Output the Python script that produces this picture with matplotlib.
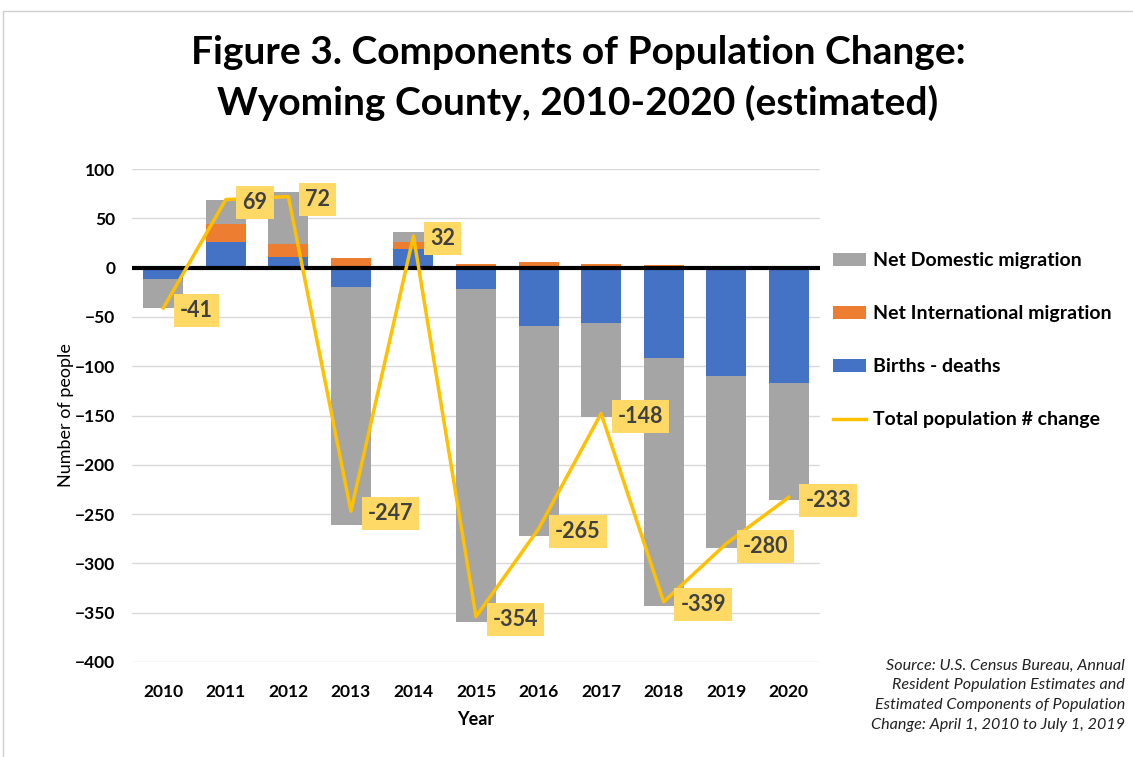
import numpy as np
import matplotlib.pyplot as plt
from matplotlib.patches import Rectangle

plt.rcParams['font.family'] = ['Lato', 'DejaVu Sans']

years = ["2010", "2011", "2012", "2013", "2014", "2015",
         "2016", "2017", "2018", "2019", "2020"]
births_deaths = [-12, 26, 11, -20, 19, -22, -59, -56, -92, -110, -117]
net_intl = [0, 18, 13, 10, 7, 4, 6, 4, 3, 2, 2]
net_domestic = [-29, 25, 53, -241, 10, -337, -213, -96, -251, -174, -119]
total_change = [-41, 69, 72, -247, 32, -354, -265, -148, -339, -280, -233]

c_blue = "#4472C4"
c_orange = "#ED7D31"
c_gray = "#A5A5A5"
c_line = "#FFC000"
c_label = "#FFD966"

fig = plt.figure(figsize=(11.33, 7.57), dpi=100)
ax = fig.add_axes([132 / 1133, 1 - 662 / 757, (820 - 132) / 1133, (662 - 169) / 757])

x = np.arange(len(years))
w = 0.64

# stack positives up and negatives down, in order blue, orange, gray
pos = np.zeros(len(years))
neg = np.zeros(len(years))
for vals, col, lab in [(births_deaths, c_blue, "Births - deaths"),
                       (net_intl, c_orange, "Net International migration"),
                       (net_domestic, c_gray, "Net Domestic migration")]:
    v = np.array(vals, dtype=float)
    bottom = np.where(v >= 0, pos, neg)
    ax.bar(x, v, w, bottom=bottom, color=col, label=lab, zorder=2)
    pos = pos + np.where(v >= 0, v, 0)
    neg = neg + np.where(v < 0, v, 0)

ax.plot(x, total_change, color=c_line, lw=2.5, zorder=4,
        label="Total population # change")

for xi, t in zip(x, total_change):
    ax.annotate(str(t), (xi, t), xytext=(12, -2), textcoords="offset points",
                ha="left", va="center", fontsize=15.5, fontweight="bold",
                color="#404040", zorder=5,
                bbox=dict(boxstyle="square,pad=0.28", fc=c_label, ec="none"))

ax.axhline(0, color="black", lw=3, zorder=3)

ax.set_xlim(-0.5, len(years) - 0.5)
ax.set_ylim(-400, 100)
ax.set_yticks(np.arange(-400, 101, 50))
ax.set_xticks(x)
ax.set_xticklabels(years)
ax.yaxis.grid(True, color="#D9D9D9", lw=1, zorder=0)
ax.set_axisbelow(True)
for s in ax.spines.values():
    s.set_visible(False)
ax.tick_params(length=0, labelsize=12.5, colors="black")
ax.tick_params(axis="x", pad=16)
ax.tick_params(axis="y", pad=12)
for lbl in ax.get_xticklabels() + ax.get_yticklabels():
    lbl.set_fontweight("bold")

ax.set_xlabel("Year", fontsize=13, fontweight="bold", labelpad=8)
ax.set_ylabel("Number of people", fontsize=13, labelpad=1)

handles, labels = ax.get_legend_handles_labels()
order = [labels.index(n) for n in ["Net Domestic migration", "Net International migration",
                                   "Births - deaths", "Total population # change"]]
fig.legend([handles[i] for i in order], [labels[i] for i in order],
           loc="upper left", bbox_to_anchor=(815 / 1133, 1 - 235 / 757),
           frameon=False, labelspacing=1.85,
           handlelength=1.7, handletextpad=0.4,
           prop={"weight": "bold", "size": 14})

fig.text(578 / 1133, 1 - 52 / 757, "Figure 3. Components of Population Change:",
         ha="center", va="center", fontsize=28, fontweight="bold")
fig.text(578 / 1133, 1 - 103 / 757, "Wyoming County, 2010-2020 (estimated)",
         ha="center", va="center", fontsize=28, fontweight="bold")

fig.text(1125 / 1133, 1 - 659 / 757,
         "Source: U.S. Census Bureau, Annual\nResident Population Estimates and\n"
         "Estimated Components of Population\nChange: April 1, 2010 to July 1, 2019",
         ha="right", va="top", fontsize=11.6, style="italic", linespacing=1.5,
         color="#222222")

fig.patches.append(Rectangle((3 / 1133, -0.1), 1.2, 1 - 11 / 757 + 0.1,
                             transform=fig.transFigure, fill=False,
                             ec="#D0D0D0", lw=1))

fig.savefig("out.png", dpi=100)
